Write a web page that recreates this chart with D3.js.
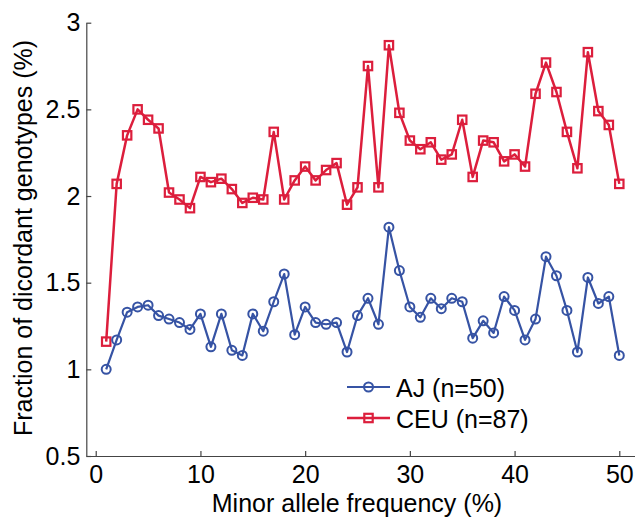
<!DOCTYPE html>
<html>
<head>
<meta charset="utf-8">
<script src="https://cdn.jsdelivr.net/npm/d3@7"></script>
<style>
  body { margin: 0; background: #fff; }
  text { font-family: "Liberation Sans", Arial, sans-serif; }
</style>
</head>
<body>
<div id="chart"></div>
<script>
// minor allele frequency bins (%)
const maf = d3.range(1, 51);

const ajValues = [
  1.00, 1.17, 1.33, 1.36, 1.37, 1.31, 1.29, 1.27, 1.23, 1.32,
  1.13, 1.32, 1.11, 1.08, 1.32, 1.22, 1.39, 1.55, 1.20, 1.36,
  1.27, 1.26, 1.27, 1.10, 1.31, 1.41, 1.26, 1.82, 1.57, 1.36,
  1.30, 1.41, 1.35, 1.41, 1.39, 1.18, 1.28, 1.21, 1.42, 1.34,
  1.17, 1.29, 1.65, 1.54, 1.34, 1.10, 1.53, 1.38, 1.42, 1.08
];

const ceuValues = [
  1.16, 2.07, 2.35, 2.50, 2.44, 2.39, 2.02, 1.98, 1.93, 2.11,
  2.08, 2.10, 2.04, 1.96, 1.99, 1.98, 2.37, 1.98, 2.09, 2.17,
  2.09, 2.15, 2.19, 1.95, 2.05, 2.75, 2.05, 2.87, 2.48, 2.32,
  2.27, 2.31, 2.21, 2.24, 2.44, 2.11, 2.32, 2.31, 2.20, 2.24,
  2.17, 2.59, 2.77, 2.60, 2.37, 2.16, 2.83, 2.49, 2.41, 2.07
];

const xTicks = [0, 10, 20, 30, 40, 50];
const yTicks = [0.5, 1, 1.5, 2, 2.5, 3];
const seriesNames = ['AJ (n=50)', 'CEU (n=87)'];

const colors = { aj: '#3653a4', ceu: '#dc1e3c', axis: '#444', text: '#000' };

const width = 635;
const height = 517;

const svg = d3.select('#chart')
  .append('svg')
  .attr('width', width)
  .attr('height', height);

const xScale = d3.scaleLinear().domain([-0.9, 51.5]).range([86.3, 635]);
const yScale = d3.scaleLinear().domain([0.5, 3]).range([456, 22.7]);

// axes (ticks point inward, matlab style)
const xAxis = svg.append('g')
  .attr('transform', `translate(0,${yScale(0.5)})`)
  .call(d3.axisBottom(xScale).tickValues(xTicks).tickSizeInner(-5).tickSizeOuter(0).tickPadding(9));

const yAxis = svg.append('g')
  .attr('transform', `translate(${xScale(-0.9)},0)`)
  .call(d3.axisLeft(yScale).tickValues(yTicks).tickFormat(d => String(d)).tickSizeInner(-5).tickSizeOuter(0).tickPadding(6));

[xAxis, yAxis].forEach(g => {
  g.selectAll('path, line').attr('stroke', colors.axis).attr('stroke-width', 1.2);
  g.selectAll('text').attr('fill', colors.text).attr('font-size', '25px')
    .attr('font-family', '"Liberation Sans", Arial, sans-serif');
});

svg.append('text')
  .attr('x', 357)
  .attr('y', 512)
  .attr('text-anchor', 'middle')
  .attr('font-size', '25px')
  .attr('fill', colors.text)
  .text('Minor allele frequency (%)');

svg.append('text')
  .attr('transform', 'translate(32,238) rotate(-90)')
  .attr('text-anchor', 'middle')
  .attr('font-size', '25px')
  .attr('fill', colors.text)
  .text('Fraction of dicordant genotypes (%)');

const line = d3.line()
  .x(d => xScale(d.x))
  .y(d => yScale(d.y));

const ajData = maf.map((x, i) => ({ x, y: ajValues[i] }));
const ceuData = maf.map((x, i) => ({ x, y: ceuValues[i] }));

// CEU series (squares)
svg.append('path')
  .attr('d', line(ceuData))
  .attr('fill', 'none')
  .attr('stroke', colors.ceu)
  .attr('stroke-width', 2.5)
  .attr('stroke-linejoin', 'round');

svg.append('g').selectAll('rect')
  .data(ceuData)
  .join('rect')
  .attr('x', d => xScale(d.x) - 4.2)
  .attr('y', d => yScale(d.y) - 4.2)
  .attr('width', 8.4)
  .attr('height', 8.4)
  .attr('fill', 'none')
  .attr('stroke', colors.ceu)
  .attr('stroke-width', 2.2);

// AJ series (circles)
svg.append('path')
  .attr('d', line(ajData))
  .attr('fill', 'none')
  .attr('stroke', colors.aj)
  .attr('stroke-width', 2.2)
  .attr('stroke-linejoin', 'round');

svg.append('g').selectAll('circle')
  .data(ajData)
  .join('circle')
  .attr('cx', d => xScale(d.x))
  .attr('cy', d => yScale(d.y))
  .attr('r', 4.5)
  .attr('fill', 'none')
  .attr('stroke', colors.aj)
  .attr('stroke-width', 2);

// legend
const legend = svg.append('g').attr('transform', 'translate(347,387)');
seriesNames.forEach((name, i) => {
  const row = legend.append('g').attr('transform', `translate(0,${i * 31})`);
  const c = i === 0 ? colors.aj : colors.ceu;
  row.append('line')
    .attr('x1', 0).attr('x2', 43)
    .attr('stroke', c)
    .attr('stroke-width', i === 0 ? 2.2 : 2.5);
  if (i === 0) {
    row.append('circle').attr('cx', 21.5).attr('r', 4.5)
      .attr('fill', 'none').attr('stroke', c).attr('stroke-width', 2);
  } else {
    row.append('rect').attr('x', 17.3).attr('y', -4.2).attr('width', 8.4).attr('height', 8.4)
      .attr('fill', 'none').attr('stroke', c).attr('stroke-width', 2.2);
  }
  row.append('text')
    .attr('x', 49)
    .attr('y', 9.5)
    .attr('font-size', '25px')
    .attr('fill', colors.text)
    .text(name);
});
</script>
</body>
</html>
